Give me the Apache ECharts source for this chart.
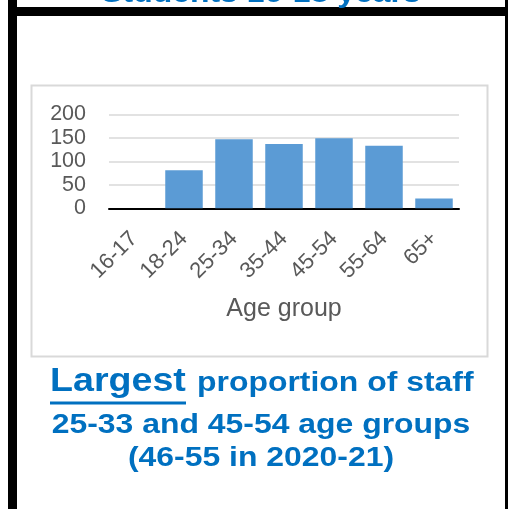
<!DOCTYPE html>
<html>
<head>
<meta charset="utf-8">
<script src="https://cdn.jsdelivr.net/npm/echarts@6/dist/echarts.min.js"></script>
<style>
  html, body { margin: 0; padding: 0; background: #ffffff; }
  #chart { width: 508px; height: 509px; }
</style>
</head>
<body>
<div id="chart"></div>
<script>
// Staff by age group
const categories = ['16-17', '18-24', '25-34', '35-44', '45-54', '55-64', '65+'];
const staffCounts = [0, 81, 147, 137, 149, 133, 21];
const yTicks = { min: 0, max: 200, interval: 50 };

const FONT = '"Liberation Sans", Arial, sans-serif';
const BLUE = '#0070C0';
const GREY_TEXT = '#595959';
const STRETCH = 1.14;

const chart = echarts.init(document.getElementById('chart'), null, { renderer: 'canvas' });

chart.setOption({
  backgroundColor: '#ffffff',
  animation: false,
  grid: { left: 109, right: 49, top: 114.3, bottom: 300.7, containLabel: false },
  xAxis: {
    type: 'category',
    data: categories,
    axisLine: { show: true, lineStyle: { color: '#000000', width: 2 } },
    axisTick: { show: false },
    axisLabel: {
      rotate: 45,
      margin: 27,
      fontSize: 22,
      color: GREY_TEXT,
      fontFamily: FONT,
      interval: 0
    },
    name: 'Age group',
    nameLocation: 'middle',
    nameGap: 88,
    nameTextStyle: { fontSize: 25, color: GREY_TEXT, fontFamily: FONT }
  },
  yAxis: {
    type: 'value',
    min: yTicks.min,
    max: yTicks.max,
    interval: yTicks.interval,
    axisLine: { show: false },
    axisTick: { show: false },
    axisLabel: { fontSize: 21.5, color: GREY_TEXT, fontFamily: FONT, margin: 23 },
    splitLine: { lineStyle: { color: '#D9D9D9', width: 1.5 } }
  },
  series: [{
    type: 'bar',
    data: staffCounts,
    barCategoryGap: '25%',
    itemStyle: { color: '#5B9BD5' }
  }],
  graphic: [
    // chart area border
    { type: 'rect', z: -1, shape: { x: 31.5, y: 85.5, width: 456, height: 271 },
      style: { fill: null, stroke: '#D9D9D9', lineWidth: 2 } },
    // black panel frame
    { type: 'rect', shape: { x: 8, y: 0, width: 9, height: 509 }, style: { fill: '#000000' } },
    { type: 'rect', shape: { x: 8, y: 7, width: 500, height: 9 }, style: { fill: '#000000' } },
    { type: 'rect', shape: { x: 505, y: 0, width: 3, height: 509 }, style: { fill: '#000000' } },
    // heading of the panel above
    { type: 'text', x: 261, y: -5.5, scaleX: STRETCH,
      style: { text: 'Students 16-18 years', align: 'center', verticalAlign: 'middle',
               font: 'bold 28px ' + FONT, fill: BLUE } },
    // caption
    { type: 'text', x: 50, y: 381.9, scaleX: STRETCH,
      style: { text: 'Largest', align: 'left', verticalAlign: 'middle',
               font: 'bold 33px ' + FONT, fill: BLUE } },
    { type: 'rect', shape: { x: 50, y: 401.5, width: 136, height: 3 }, style: { fill: BLUE } },
    { type: 'text', x: 197, y: 383.6, scaleX: STRETCH,
      style: { text: 'proportion of staff', align: 'left', verticalAlign: 'middle',
               font: 'bold 28px ' + FONT, fill: BLUE } },
    { type: 'text', x: 261, y: 425.3, scaleX: STRETCH,
      style: { text: '25-33 and 45-54 age groups', align: 'center', verticalAlign: 'middle',
               font: 'bold 28px ' + FONT, fill: BLUE } },
    { type: 'text', x: 261, y: 458.6, scaleX: STRETCH,
      style: { text: '(46-55 in 2020-21)', align: 'center', verticalAlign: 'middle',
               font: 'bold 28px ' + FONT, fill: BLUE } }
  ]
});
</script>
</body>
</html>
